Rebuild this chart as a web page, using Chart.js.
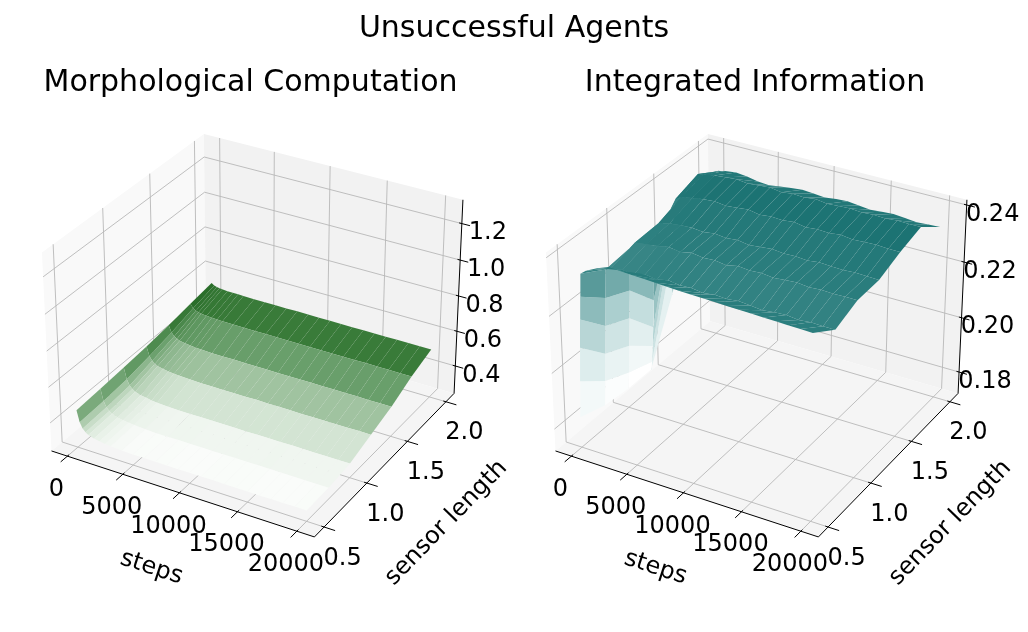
<!DOCTYPE html>
<html lang="en">
<head>
<meta charset="UTF-8">
<title>Unsuccessful Agents</title>
<style>
  body { margin: 0; background: #fff; }
  .figure { position: relative; width: 1028px; height: 632px; overflow: hidden; font-family: 'DejaVu Sans', sans-serif; }
  .figure canvas { position: absolute; top: 0; }
  #mc { left: 0; }
  #ii { left: 514px; }
  .suptitle { position: absolute; left: 0; top: 12px; width: 1028px; text-align: center; font-size: 30px; line-height: 30px; color: #000; }
</style>
</head>
<body>
<div class="figure">
  <canvas id="mc" width="514" height="632"></canvas>
  <canvas id="ii" width="514" height="632"></canvas>
  <div class="suptitle">Unsuccessful Agents</div>
</div>
<script src="https://cdn.jsdelivr.net/npm/chart.js"></script>
<script>
// rows of the surfaces, one array per sensor length
const sensorLength = [0.5, 0.75, 1.0, 1.25, 1.5, 1.75, 2.0];

// Morphological Computation
const stepsMC = [0, 250, 500, 750, 1000, 1500, 2000, 2500, 3000, 4000, 5000, 6000, 7000, 8000, 9000, 10000, 11000, 12000, 13000, 14000, 15000, 16000, 17000, 18000, 19000, 20000];
const mc050 = [0.450, 0.387, 0.357, 0.341, 0.330, 0.320, 0.314, 0.309, 0.306, 0.302, 0.300, 0.301, 0.300, 0.300, 0.299, 0.300, 0.300, 0.301, 0.300, 0.300, 0.300, 0.299, 0.300, 0.300, 0.301, 0.300];
const mc075 = [0.460, 0.395, 0.364, 0.347, 0.336, 0.325, 0.319, 0.314, 0.311, 0.307, 0.305, 0.305, 0.306, 0.305, 0.305, 0.304, 0.305, 0.305, 0.305, 0.306, 0.305, 0.305, 0.305, 0.304, 0.305, 0.305];
const mc100 = [0.470, 0.407, 0.377, 0.361, 0.350, 0.340, 0.334, 0.329, 0.326, 0.322, 0.320, 0.320, 0.321, 0.320, 0.320, 0.320, 0.319, 0.320, 0.320, 0.320, 0.321, 0.320, 0.320, 0.320, 0.320, 0.320];
const mc125 = [0.482, 0.433, 0.409, 0.397, 0.388, 0.380, 0.376, 0.372, 0.370, 0.367, 0.365, 0.365, 0.364, 0.365, 0.365, 0.366, 0.365, 0.365, 0.365, 0.364, 0.365, 0.365, 0.365, 0.365, 0.366, 0.365];
const mc150 = [0.500, 0.462, 0.444, 0.434, 0.428, 0.422, 0.418, 0.415, 0.414, 0.411, 0.410, 0.411, 0.410, 0.410, 0.410, 0.409, 0.410, 0.410, 0.411, 0.410, 0.410, 0.410, 0.410, 0.409, 0.410, 0.410];
const mc175 = [0.520, 0.499, 0.489, 0.484, 0.480, 0.477, 0.475, 0.473, 0.472, 0.471, 0.470, 0.470, 0.471, 0.470, 0.470, 0.470, 0.470, 0.469, 0.470, 0.470, 0.470, 0.471, 0.470, 0.470, 0.470, 0.470];
const mc200 = [0.540, 0.530, 0.525, 0.522, 0.520, 0.518, 0.517, 0.517, 0.516, 0.515, 0.515, 0.515, 0.515, 0.516, 0.515, 0.515, 0.515, 0.515, 0.514, 0.515, 0.515, 0.515, 0.516, 0.515, 0.515, 0.515];

// Integrated Information
const stepsII = [0, 100, 200, 300, 400, 500, 1000, 2000, 3000, 4000, 5000, 6000, 7000, 8000, 9000, 10000, 11000, 12000, 13000, 14000, 15000, 16000, 17000, 18000, 19000, 20000];
const ii050 = [0.1830, 0.1960, 0.2080, 0.2180, 0.2260, 0.2340, 0.2355, 0.2375, 0.2390, 0.2388, 0.2386, 0.2384, 0.2382, 0.2380, 0.2378, 0.2377, 0.2376, 0.2375, 0.2373, 0.2372, 0.2371, 0.2370, 0.2369, 0.2368, 0.2367, 0.2366];
const ii075 = [0.1800, 0.1890, 0.1990, 0.2090, 0.2190, 0.2290, 0.2300, 0.2305, 0.2300, 0.2312, 0.2306, 0.2314, 0.2309, 0.2311, 0.2305, 0.2310, 0.2307, 0.2312, 0.2308, 0.2304, 0.2309, 0.2311, 0.2306, 0.2310, 0.2308, 0.2308];
const ii100 = [0.1790, 0.1850, 0.1950, 0.2050, 0.2150, 0.2300, 0.2325, 0.2330, 0.2335, 0.2342, 0.2336, 0.2344, 0.2338, 0.2341, 0.2335, 0.2343, 0.2339, 0.2342, 0.2337, 0.2340, 0.2343, 0.2338, 0.2341, 0.2339, 0.2340, 0.2340];
const ii125 = [0.1790, 0.1820, 0.1880, 0.1950, 0.2050, 0.2250, 0.2330, 0.2340, 0.2344, 0.2346, 0.2342, 0.2348, 0.2343, 0.2347, 0.2341, 0.2345, 0.2349, 0.2344, 0.2346, 0.2342, 0.2347, 0.2345, 0.2343, 0.2346, 0.2344, 0.2343];
const ii150 = [0.2000, 0.2150, 0.2250, 0.2300, 0.2330, 0.2350, 0.2360, 0.2368, 0.2374, 0.2378, 0.2372, 0.2376, 0.2380, 0.2373, 0.2377, 0.2375, 0.2379, 0.2372, 0.2376, 0.2374, 0.2378, 0.2373, 0.2375, 0.2377, 0.2374, 0.2374];
const ii175 = [0.2250, 0.2320, 0.2350, 0.2365, 0.2372, 0.2378, 0.2380, 0.2388, 0.2392, 0.2395, 0.2390, 0.2394, 0.2397, 0.2391, 0.2396, 0.2393, 0.2398, 0.2392, 0.2395, 0.2397, 0.2393, 0.2396, 0.2394, 0.2398, 0.2396, 0.2397];
const ii200 = [0.2310, 0.2320, 0.2325, 0.2328, 0.2330, 0.2330, 0.2335, 0.2340, 0.2336, 0.2328, 0.2325, 0.2331, 0.2336, 0.2340, 0.2337, 0.2333, 0.2338, 0.2341, 0.2336, 0.2332, 0.2335, 0.2338, 0.2334, 0.2330, 0.2333, 0.2335];

// axis limits and ticks
const stepsRange = [-1000, 21000];
const sensorRange = [0.425, 2.075];
const mcZRange = [0.262, 1.307];
const iiZRange = [0.1734, 0.2404];
const stepTicks = [0, 5000, 10000, 15000, 20000];
const sensorTicks = [0.5, 1.0, 1.5, 2.0];
const mcZTicks = [0.4, 0.6, 0.8, 1.0, 1.2];
const iiZTicks = [0.18, 0.20, 0.22, 0.24];

const FONT = "'DejaVu Sans', 'Liberation Sans', sans-serif";
const VIEW = { elev: 30, azim: -60, dist: 10 };
const FIT = { sx: 2530, sy: 2534, cy: 325.8, w: 514, h: 632 };

const dot = (a, b) => a[0] * b[0] + a[1] * b[1] + a[2] * b[2];

// perspective projection like mplot3d (box aspect 4:4:3)
function makeProjector(xr, yr, zr) {
  const n0 = Math.hypot(4, 4, 3);
  const aspect = [4, 4, 3].map(v => v * 1.8294640721620434 / n0);
  const el = VIEW.elev * Math.PI / 180, az = VIEW.azim * Math.PI / 180;
  const nv = [Math.cos(el) * Math.cos(az), Math.cos(el) * Math.sin(az), Math.sin(el)];
  const eye = aspect.map((a, i) => a / 2 + VIEW.dist * nv[i]);
  let uv = [-nv[1], nv[0], 0];
  const ul = Math.hypot(uv[0], uv[1]);
  uv = uv.map(v => v / ul);
  const vv = [nv[1] * uv[2] - nv[2] * uv[1], nv[2] * uv[0] - nv[0] * uv[2], nv[0] * uv[1] - nv[1] * uv[0]];
  const ranges = [xr, yr, zr];
  return (x, y, z) => {
    const d = [x, y, z].map((val, i) => (val - ranges[i][0]) / (ranges[i][1] - ranges[i][0]) * aspect[i] - eye[i]);
    const depth = -dot(nv, d);
    return { x: dot(uv, d) / depth, y: dot(vv, d) / depth, depth };
  };
}

function makeCmap(stops) {
  return t => {
    t = Math.max(0, Math.min(1, t));
    let k = 1;
    while (k < stops.length - 1 && stops[k][0] < t) k++;
    const a = stops[k - 1], b = stops[k];
    const f = (t - a[0]) / (b[0] - a[0]);
    const c = [1, 2, 3].map(i => Math.round(a[i] + (b[i] - a[i]) * f));
    return `rgb(${c[0]},${c[1]},${c[2]})`;
  };
}
const greens = makeCmap([[0, 250, 252, 250], [0.18, 212, 229, 212], [0.39, 160, 195, 160], [0.63, 104, 158, 106], [0.87, 56, 122, 56], [1, 42, 110, 42]]);
const teals = makeCmap([[0, 255, 255, 255], [0.3, 220, 236, 236], [0.55, 168, 205, 205], [0.75, 108, 166, 166], [0.9, 46, 128, 128], [1, 28, 115, 115]]);

// one filled quad per grid cell, far ones drawn first
function surfaceDatasets(steps, rows, proj, cmap) {
  const quads = [];
  for (let j = 0; j + 1 < rows.length; j++) {
    for (let i = 0; i + 1 < steps.length; i++) {
      const ids = [[i, j], [i + 1, j], [i + 1, j + 1], [i, j + 1]];
      const pts = ids.map(([a, b]) => proj(steps[a], sensorLength[b], rows[b][a]));
      const zAvg = ids.reduce((s, [a, b]) => s + rows[b][a], 0) / 4;
      const depth = pts.reduce((s, p) => s + p.depth, 0) / 4;
      quads.push({ pts, zAvg, depth });
    }
  }
  const lo = Math.min(...quads.map(q => q.zAvg));
  const hi = Math.max(...quads.map(q => q.zAvg));
  return quads.map(q => ({
    data: q.pts.concat([q.pts[0]]).map(p => ({ x: p.x, y: p.y })),
    backgroundColor: cmap((q.zAvg - lo) / (hi - lo)),
    borderColor: 'rgba(0,0,0,0)',
    borderWidth: 0,
    pointRadius: 0,
    fill: 'shape',
    order: q.depth
  }));
}

function axesPlugin(s) {
  const pad = r => [r[0] - (r[1] - r[0]) / 48, r[1] + (r[1] - r[0]) / 48];
  const [x0, x1] = pad(stepsRange), [y0, y1] = pad(sensorRange), [z0, z1] = pad(s.zRange);
  const dx = x1 - x0, dy = y1 - y0;
  let P;
  const bind = chart => {
    P = (x, y, z) => {
      const p = s.proj(x, y, z);
      return [chart.scales.x.getPixelForValue(p.x), chart.scales.y.getPixelForValue(p.y)];
    };
  };
  const line = (ctx, pts) => {
    ctx.beginPath();
    pts.forEach((p, i) => i ? ctx.lineTo(p[0], p[1]) : ctx.moveTo(p[0], p[1]));
    ctx.stroke();
  };
  const pane = (ctx, pts, color) => {
    ctx.beginPath();
    pts.forEach((p, i) => i ? ctx.lineTo(p[0], p[1]) : ctx.moveTo(p[0], p[1]));
    ctx.closePath();
    ctx.fillStyle = color;
    ctx.fill();
  };
  const label = (ctx, str, x, y, size) => {
    ctx.font = size + 'px ' + FONT;
    ctx.textAlign = 'center';
    ctx.textBaseline = 'alphabetic';
    ctx.fillStyle = '#000';
    ctx.fillText(str, x, y);
  };
  const rotated = (ctx, str, at, from, to) => {
    ctx.save();
    ctx.translate(at[0], at[1]);
    ctx.rotate(Math.atan2(to[1] - from[1], to[0] - from[0]));
    ctx.font = '24px ' + FONT;
    ctx.textAlign = 'center';
    ctx.textBaseline = 'middle';
    ctx.fillStyle = '#000';
    ctx.fillText(str, 0, 0);
    ctx.restore();
  };
  return {
    id: 'axes3d',
    beforeDatasetsDraw(chart) {
      bind(chart);
      const ctx = chart.ctx;
      ctx.save();
      pane(ctx, [P(x0, y0, z0), P(x0, y1, z0), P(x0, y1, z1), P(x0, y0, z1)], '#f9f9f9');
      pane(ctx, [P(x0, y1, z0), P(x1, y1, z0), P(x1, y1, z1), P(x0, y1, z1)], '#f2f2f2');
      pane(ctx, [P(x0, y0, z0), P(x1, y0, z0), P(x1, y1, z0), P(x0, y1, z0)], '#f5f5f5');
      ctx.strokeStyle = '#b8b8b8';
      ctx.lineWidth = 0.9;
      stepTicks.forEach(t => line(ctx, [P(t, y0, z0), P(t, y1, z0), P(t, y1, z1)]));
      sensorTicks.forEach(t => line(ctx, [P(x1, t, z0), P(x0, t, z0), P(x0, t, z1)]));
      s.zTicks.forEach(t => line(ctx, [P(x0, y0, t), P(x0, y1, t), P(x1, y1, t)]));
      ctx.restore();
    },
    afterDatasetsDraw(chart) {
      bind(chart);
      const ctx = chart.ctx;
      ctx.save();
      ctx.strokeStyle = '#000';
      ctx.lineWidth = 1;
      line(ctx, [P(x0, y0, z0), P(x1, y0, z0)]);
      line(ctx, [P(x1, y0, z0), P(x1, y1, z0)]);
      line(ctx, [P(x1, y1, z0), P(x1, y1, z1)]);
      stepTicks.forEach(t => {
        line(ctx, [P(t, y0 + 0.01 * dy, z0), P(t, y0 - 0.04 * dy, z0)]);
        const p = P(t, y0, z0);
        label(ctx, String(t), p[0] - 11, p[1] + 31 + 8.7, 24);
      });
      sensorTicks.forEach(t => {
        line(ctx, [P(x1 - 0.01 * dx, t, z0), P(x1 + 0.04 * dx, t, z0)]);
        const p = P(x1, t, z0);
        label(ctx, t.toFixed(1), p[0] + 18.5, p[1] + 29 + 8.7, 24);
      });
      s.zTicks.forEach(t => {
        line(ctx, [P(x1 - 0.01 * dx, y1, t), P(x1 + 0.03 * dx, y1, t)]);
        const p = P(x1, y1, t);
        label(ctx, t.toFixed(s.zDigits), p[0] + 26, p[1] + 7 + 8.7, 24);
      });
      // axis labels, rotated along their axes
      const xm = P(10000, y0, z0), ym = P(x1, 1.25, z0);
      rotated(ctx, 'steps', [xm[0] - 28, xm[1] + 75], P(x0, y0, z0), P(x1, y0, z0));
      rotated(ctx, 'sensor length', [ym[0] + 59, ym[1] + 61], P(x1, y0, z0), P(x1, y1, z0));
      label(ctx, s.title, s.titleX, 91, 30);
      ctx.restore();
    }
  };
}

function buildChart(id, s) {
  const proj = makeProjector(stepsRange, sensorRange, s.zRange);
  s.proj = proj;
  return new Chart(document.getElementById(id), {
    type: 'line',
    data: { datasets: surfaceDatasets(s.steps, s.rows, proj, s.cmap) },
    options: {
      responsive: false,
      animation: false,
      events: [],
      layout: { padding: 0 },
      plugins: { legend: { display: false }, tooltip: { enabled: false } },
      scales: {
        x: { type: 'linear', display: false, min: -s.cx / FIT.sx, max: (FIT.w - s.cx) / FIT.sx },
        y: { type: 'linear', display: false, min: (FIT.cy - FIT.h) / FIT.sy, max: FIT.cy / FIT.sy }
      }
    },
    plugins: [axesPlugin(s)]
  });
}

buildChart('mc', {
  title: 'Morphological Computation', titleX: 250.5, cx: 256.5,
  steps: stepsMC, rows: [mc050, mc075, mc100, mc125, mc150, mc175, mc200],
  zRange: mcZRange, zTicks: mcZTicks, zDigits: 1, cmap: greens
});
buildChart('ii', {
  title: 'Integrated Information', titleX: 241, cx: 246.5,
  steps: stepsII, rows: [ii050, ii075, ii100, ii125, ii150, ii175, ii200],
  zRange: iiZRange, zTicks: iiZTicks, zDigits: 2, cmap: teals
});
</script>
</body>
</html>
